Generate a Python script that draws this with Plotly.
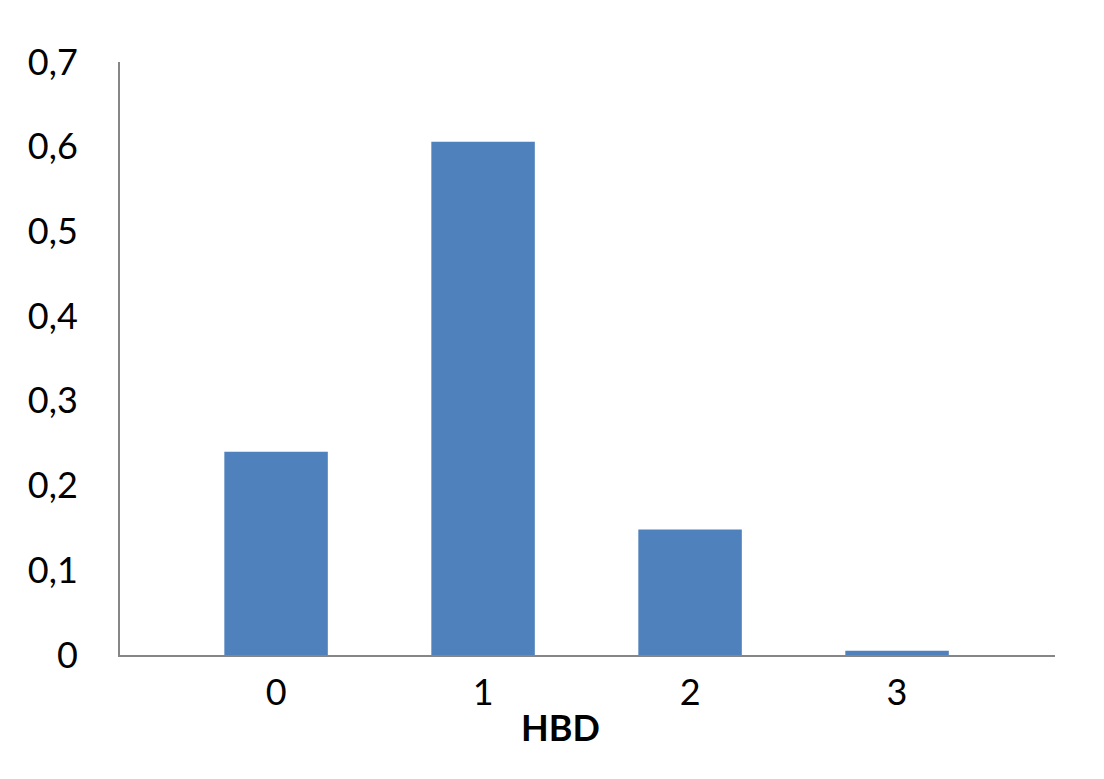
import plotly.graph_objects as go

# HBD distribution
hbd = [0, 1, 2, 3]
share = [0.24, 0.606, 0.148, 0.005]

y_ticks = [0, 0.1, 0.2, 0.3, 0.4, 0.5, 0.6, 0.7]
y_tick_labels = ["0", "0,1", "0,2", "0,3", "0,4", "0,5", "0,6", "0,7"]
x_tick_labels = ["0", "1", "2", "3"]

font = "Lato, 'Open Sans', sans-serif"
axis_color = "#868686"

# the page puts the figure 8px in from the top-left corner
W, H = 1096, 771
L, T, R, B = 112, 54, 49, 124

fig = go.Figure()
fig.add_trace(
    go.Bar(
        x=hbd,
        y=share,
        width=0.5,
        marker=dict(color="#4F81BD", line=dict(width=0)),
    )
)

fig.update_layout(
    width=W,
    height=H,
    margin=dict(l=L, r=R, t=T, b=B, pad=0),
    plot_bgcolor="white",
    paper_bgcolor="white",
    showlegend=False,
    font=dict(family=font, color="black"),
    xaxis=dict(
        range=[-0.754, 3.763],
        tickvals=hbd,
        ticktext=x_tick_labels,
        showgrid=False,
        zeroline=False,
        showline=True,
        linecolor=axis_color,
        linewidth=2,
        ticks="",
        tickfont=dict(size=36, family=font),
        ticklabelstandoff=5,
    ),
    yaxis=dict(
        range=[0, 0.7],
        tickvals=y_ticks,
        ticktext=y_tick_labels,
        showgrid=False,
        zeroline=False,
        showline=True,
        linecolor=axis_color,
        linewidth=2,
        ticks="",
        tickfont=dict(size=36, family=font),
        ticklabelstandoff=33,
    ),
)

# axis title sits left of centre, below the tick labels
plot_w = W - L - R
plot_h = H - T - B
fig.add_annotation(
    text="<b>HBD</b>",
    x=(560 - 120) / plot_w,
    y=(655 - 727) / plot_h,
    xref="paper",
    yref="paper",
    xanchor="center",
    yanchor="middle",
    showarrow=False,
    font=dict(size=36, family=font),
)

fig.write_html("out.html")
